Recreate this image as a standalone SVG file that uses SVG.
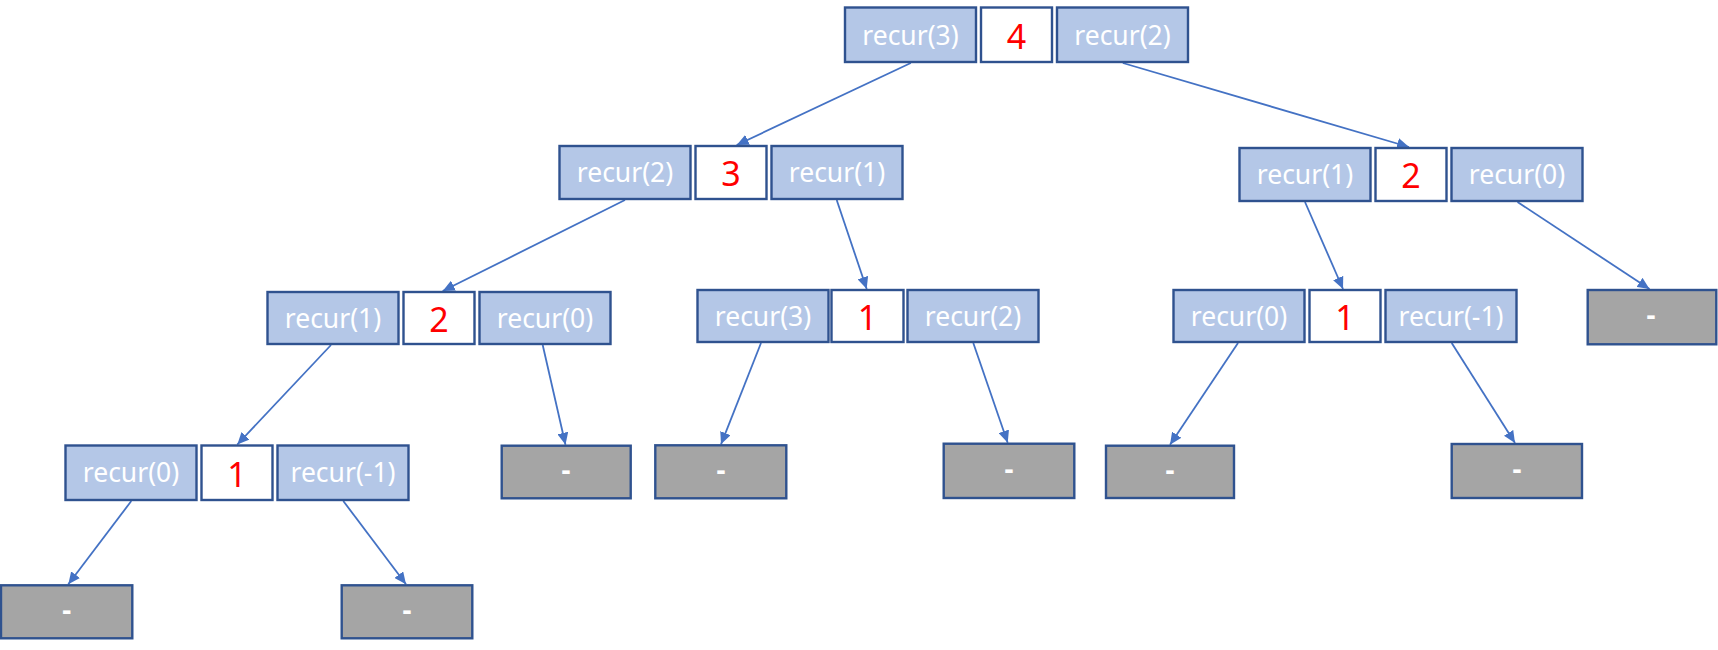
<svg xmlns="http://www.w3.org/2000/svg" width="1718" height="650" viewBox="0 0 1718 650">
<style>
.rb{fill:#B4C7E7;stroke:#2F528F;stroke-width:2.4}
.vb{fill:#FFFFFF;stroke:#2F528F;stroke-width:2.4}
.gb{fill:#A5A5A5;stroke:#2F528F;stroke-width:2.4}
.rt{font-family:"Noto Sans","Open Sans","Liberation Sans",sans-serif;font-size:26.5px;fill:#FFFFFF;text-anchor:middle}
.vt{font-family:"Noto Sans","Open Sans","Liberation Sans",sans-serif;font-size:34px;fill:#FF0000;text-anchor:middle}
.gt{font-family:"Noto Sans","Open Sans","Liberation Sans",sans-serif;font-size:28px;font-weight:bold;fill:#FFFFFF;text-anchor:middle}
.cn{fill:none;stroke:#4472C4;stroke-width:1.8;marker-end:url(#ah)}
</style>
<defs>
<marker id="ah" markerUnits="userSpaceOnUse" markerWidth="13" markerHeight="11" refX="12" refY="5.5" orient="auto">
<path d="M0,0 L12,5.5 L0,11 z" fill="#4472C4"/>
</marker>
</defs>
<rect width="1718" height="650" fill="#FFFFFF"/>

<g id="connectors">
<line class="cn" x1="910.8" y1="63" x2="736.7" y2="145"/>
<line class="cn" x1="1122.8" y1="63" x2="1409" y2="147"/>
<line class="cn" x1="625" y1="200" x2="442.7" y2="291"/>
<line class="cn" x1="836.7" y1="200" x2="866.7" y2="289"/>
<line class="cn" x1="1305" y1="202" x2="1343" y2="289"/>
<line class="cn" x1="1517.5" y1="202" x2="1649.5" y2="289"/>
<line class="cn" x1="331" y1="345" x2="237.3" y2="444.5"/>
<line class="cn" x1="542.7" y1="345" x2="565.5" y2="444.7"/>
<line class="cn" x1="761" y1="343" x2="721" y2="444.3"/>
<line class="cn" x1="973.3" y1="343" x2="1007.7" y2="442.7"/>
<line class="cn" x1="1238" y1="343" x2="1170" y2="444.7"/>
<line class="cn" x1="1451.7" y1="343" x2="1515" y2="443"/>
<line class="cn" x1="131.3" y1="501" x2="68.3" y2="584.3"/>
<line class="cn" x1="343.3" y1="501" x2="406" y2="584.3"/>
</g>

<g id="n_root">
<rect class="rb" x="845" y="7.5" width="131" height="54.5"/>
<text class="rt" x="910.5" y="44.5">recur(3)</text>
<rect class="vb" x="981" y="7.5" width="71" height="54.5"/>
<text class="vt" x="1016.5" y="48.5">4</text>
<rect class="rb" x="1057" y="7.5" width="131" height="54.5"/>
<text class="rt" x="1122.5" y="44.5">recur(2)</text>
</g>

<g id="n_l2_left">
<rect class="rb" x="559.5" y="146" width="131" height="53"/>
<text class="rt" x="625" y="182">recur(2)</text>
<rect class="vb" x="695.5" y="146" width="71" height="53"/>
<text class="vt" x="731" y="186">3</text>
<rect class="rb" x="771.5" y="146" width="131" height="53"/>
<text class="rt" x="837" y="182">recur(1)</text>
</g>

<g id="n_l2_right">
<rect class="rb" x="1239.5" y="148" width="131" height="53"/>
<text class="rt" x="1305" y="184">recur(1)</text>
<rect class="vb" x="1375.5" y="148" width="71" height="53"/>
<text class="vt" x="1411" y="188">2</text>
<rect class="rb" x="1451.5" y="148" width="131" height="53"/>
<text class="rt" x="1517" y="184">recur(0)</text>
</g>

<g id="n_l3_a">
<rect class="rb" x="267.5" y="292" width="131" height="52"/>
<text class="rt" x="333" y="327.5">recur(1)</text>
<rect class="vb" x="403.5" y="292" width="71" height="52"/>
<text class="vt" x="439" y="331.5">2</text>
<rect class="rb" x="479.5" y="292" width="131" height="52"/>
<text class="rt" x="545" y="327.5">recur(0)</text>
</g>

<g id="n_l3_b">
<rect class="rb" x="697.5" y="290" width="131" height="52"/>
<text class="rt" x="763" y="325.5">recur(3)</text>
<rect class="vb" x="831.5" y="290" width="72" height="52"/>
<text class="vt" x="867.5" y="329.5">1</text>
<rect class="rb" x="907.5" y="290" width="131" height="52"/>
<text class="rt" x="973" y="325.5">recur(2)</text>
</g>

<g id="n_l3_c">
<rect class="rb" x="1173.5" y="290" width="131" height="52"/>
<text class="rt" x="1239" y="325.5">recur(0)</text>
<rect class="vb" x="1309.5" y="290" width="71" height="52"/>
<text class="vt" x="1345" y="329.5">1</text>
<rect class="rb" x="1385.5" y="290" width="131" height="52"/>
<text class="rt" x="1451" y="325.5">recur(-1)</text>
</g>

<g id="n_l3_leaf">
<rect class="gb" x="1587.7" y="290" width="128.6" height="54.3"/>
<text class="gt" x="1651" y="325">-</text>
</g>

<g id="n_l4_e">
<rect class="rb" x="65.5" y="445.5" width="131" height="54.5"/>
<text class="rt" x="131" y="482">recur(0)</text>
<rect class="vb" x="201.5" y="445.5" width="71" height="54.5"/>
<text class="vt" x="237" y="486.5">1</text>
<rect class="rb" x="277.5" y="445.5" width="131" height="54.5"/>
<text class="rt" x="343" y="482">recur(-1)</text>
</g>

<g id="n_l4_leaf1">
<rect class="gb" x="501.7" y="445.7" width="129" height="52.6"/>
<text class="gt" x="566" y="480">-</text>
</g>
<g id="n_l4_leaf2">
<rect class="gb" x="655.3" y="445.3" width="131" height="53"/>
<text class="gt" x="721" y="480">-</text>
</g>
<g id="n_l4_leaf3">
<rect class="gb" x="943.7" y="443.7" width="130.6" height="54.3"/>
<text class="gt" x="1009" y="479">-</text>
</g>
<g id="n_l4_leaf4">
<rect class="gb" x="1106" y="445.7" width="128" height="52.3"/>
<text class="gt" x="1170" y="480">-</text>
</g>
<g id="n_l4_leaf5">
<rect class="gb" x="1451.7" y="444" width="130.3" height="54"/>
<text class="gt" x="1517" y="479">-</text>
</g>

<g id="n_l5_leaf1">
<rect class="gb" x="1" y="585.3" width="131.3" height="53"/>
<text class="gt" x="66.7" y="620">-</text>
</g>
<g id="n_l5_leaf2">
<rect class="gb" x="341.7" y="585.3" width="130.6" height="53"/>
<text class="gt" x="407" y="620">-</text>
</g>
</svg>
